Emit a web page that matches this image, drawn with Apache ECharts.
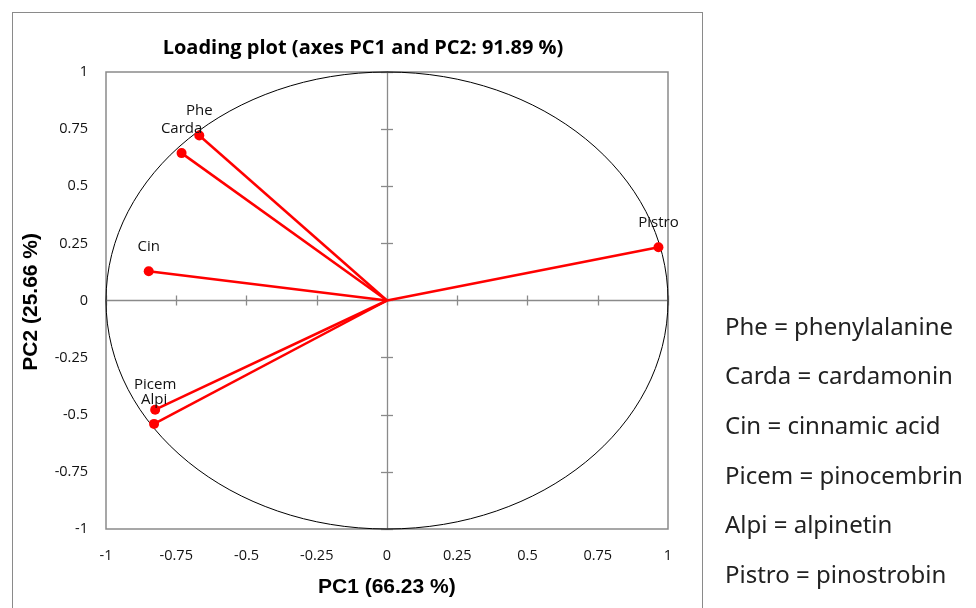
<!DOCTYPE html>
<html>
<head>
<meta charset="utf-8">
<script src="https://cdn.jsdelivr.net/npm/echarts@6/dist/echarts.min.js"></script>
<style>
html,body{margin:0;padding:0;background:#fff;}
#wrap{position:relative;width:976px;height:608px;}
#chart{position:absolute;left:0;top:0;width:976px;height:608px;}
#box{position:absolute;left:12px;top:12px;width:691px;height:600px;border:1.5px solid #8a8a8a;box-sizing:border-box;}
</style>
</head>
<body>
<div id="wrap">
<div id="box"></div>
<div id="chart"></div>
</div>
<script>
const variables = ['Phe', 'Carda', 'Cin', 'Picem', 'Alpi', 'Pistro'];
const pc1 = [-0.668, -0.731, -0.848, -0.825, -0.829, 0.966];
const pc2 = [0.722, 0.645, 0.128, -0.478, -0.540, 0.233];
const legendLines = [
  'Phe = phenylalanine',
  'Carda = cardamonin',
  'Cin = cinnamic acid',
  'Picem = pinocembrin',
  'Alpi = alpinetin',
  'Pistro = pinostrobin'
];
const titleText = 'Loading plot (axes PC1 and PC2: 91.89 %)';
const xName = 'PC1 (66.23 %)';
const yName = 'PC2 (25.66 %)';

const chart = echarts.init(document.getElementById('chart'), null, {renderer: 'canvas'});

const tickFont = {fontFamily: 'Open Sans', fontSize: 14.5, color: '#111'};
const gray = '#8a8a8a';

function baseAxis(extra) {
  return Object.assign({
    type: 'value', min: -1, max: 1, interval: 0.25,
    splitLine: {show: false},
    axisLabel: {show: false},
    axisTick: {show: false},
    axisLine: {show: false}
  }, extra);
}

const xAxes = [
  baseAxis({position: 'bottom', axisLine: {show: false, onZero: false},
    axisLabel: Object.assign({show: true, margin: 19}, tickFont)}),
  baseAxis({position: 'top', axisLine: {show: true, onZero: true, lineStyle: {color: gray, width: 1.3}},
    axisTick: {show: true, length: 5, lineStyle: {color: gray, width: 1.3}}}),
  baseAxis({position: 'bottom', axisLine: {show: false, onZero: true},
    axisTick: {show: true, length: 5, lineStyle: {color: gray, width: 1.3}}})
];
const yAxes = [
  baseAxis({position: 'left', axisLine: {show: false, onZero: false},
    axisLabel: Object.assign({show: true, margin: 18}, tickFont)}),
  baseAxis({position: 'left', axisLine: {show: true, onZero: true, lineStyle: {color: gray, width: 1.3}},
    axisTick: {show: true, length: 6, lineStyle: {color: gray, width: 1.3}}}),
  baseAxis({position: 'right', axisLine: {show: false, onZero: true},
    axisTick: {show: true, length: 6, lineStyle: {color: gray, width: 1.3}}})
];

const series = [];
// unit circle
series.push({
  type: 'custom',
  xAxisIndex: 0, yAxisIndex: 0,
  silent: true,
  data: [[0, 0]],
  renderItem: function (params, api) {
    const c = api.coord([0, 0]);
    const s = api.size([1, 1]);
    return {
      type: 'ellipse',
      shape: {cx: c[0], cy: c[1], rx: s[0], ry: s[1]},
      style: {fill: 'none', stroke: '#000', lineWidth: 1}
    };
  },
  z: 1
});
variables.forEach(function (name, i) {
  series.push({
    type: 'line',
    name: name,
    xAxisIndex: 0, yAxisIndex: 0,
    data: [
      {value: [0, 0], symbol: 'none', label: {show: false}},
      {value: [pc1[i], pc2[i]]}
    ],
    lineStyle: {color: '#ff0000', width: 2.5},
    itemStyle: {color: '#ff0000'},
    symbol: 'circle',
    symbolSize: 10,
    showSymbol: true,
    label: {
      show: true, position: 'top', distance: 12,
      formatter: name,
      fontFamily: 'Open Sans', fontSize: 15, color: '#111'
    },
    z: 3,
    animation: false
  });
});

const legendGraphics = legendLines.map(function (t, i) {
  return {
    type: 'text', left: 725, top: 316 + i * 49.6,
    style: {text: t, fontFamily: 'Noto Sans', fontSize: 24, fill: '#222'}
  };
});

chart.setOption({
  animation: false,
  title: {
    text: titleText, left: 358, top: 33, textAlign: 'center',
    textStyle: {fontFamily: 'Open Sans', fontWeight: 'bold', fontSize: 20, color: '#000'}
  },
  grid: {left: 106, right: 308, top: 72, bottom: 79, show: true, borderColor: gray, borderWidth: 1.5, backgroundColor: 'transparent'},
  xAxis: xAxes,
  yAxis: yAxes,
  series: series,
  graphic: [
    {type: 'text', left: 318, top: 577,
      style: {text: xName, fontFamily: 'Liberation Sans', fontWeight: 'bold', fontSize: 21, fill: '#000'}},
    {type: 'text', left: 21, top: 233, rotation: Math.PI / 2,
      style: {text: yName, fontFamily: 'Liberation Sans', fontWeight: 'bold', fontSize: 21, fill: '#000'}}
  ].concat(legendGraphics)
});
</script>
</body>
</html>
